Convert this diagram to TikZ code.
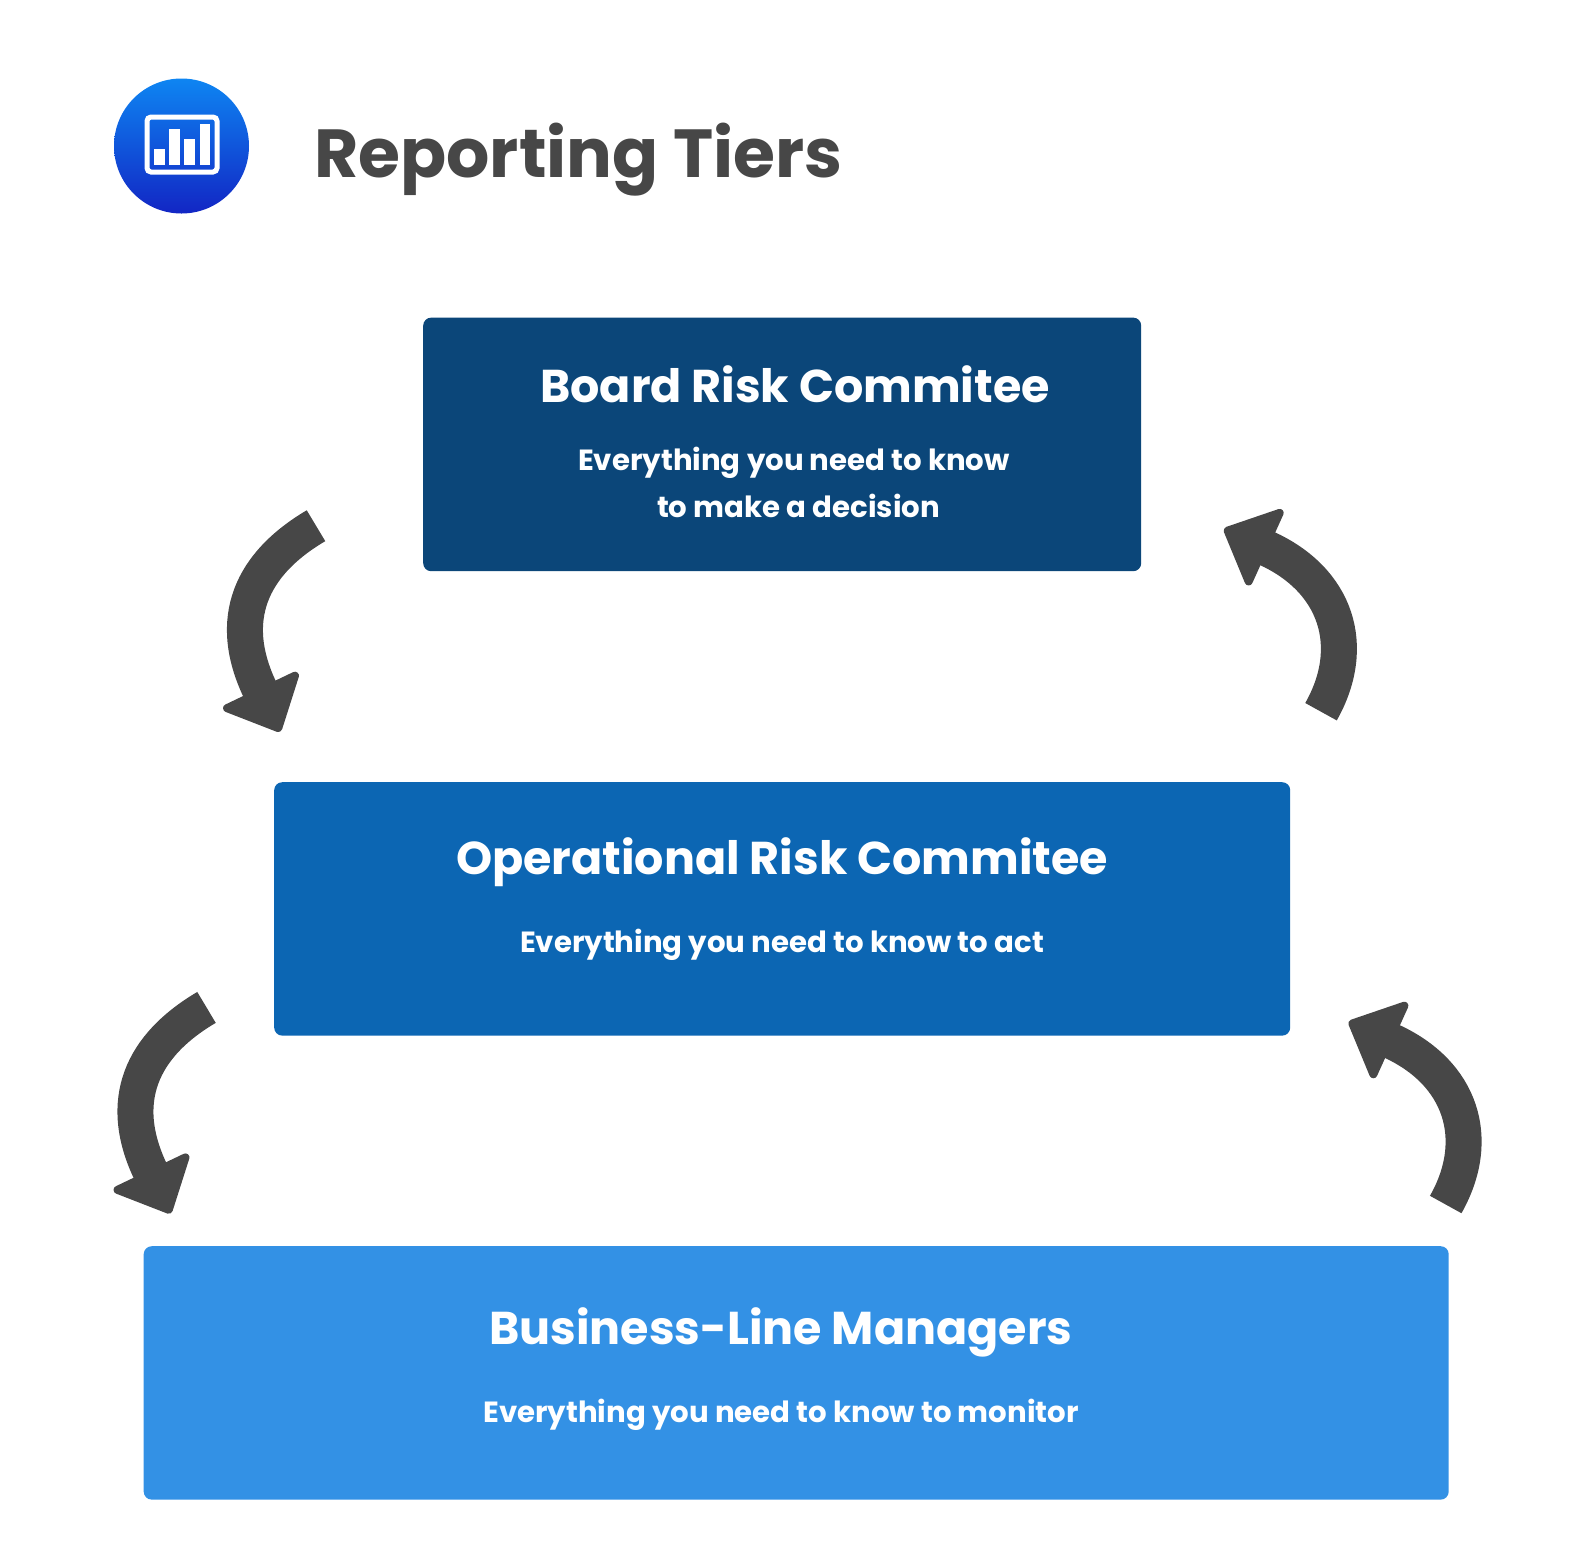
\documentclass[tikz,border=0pt]{standalone}
\usepackage{fontspec}
\setmainfont{Poppins}
\usetikzlibrary{arrows.meta}
\definecolor{boardBlue}{HTML}{0B4679}
\definecolor{opBlue}{HTML}{0C66B3}
\definecolor{lineBlue}{HTML}{3391E5}
\definecolor{arrowGray}{HTML}{474747}
\definecolor{discTop}{HTML}{0E85F2}
\definecolor{discBottom}{HTML}{1226C4}
\tikzset{
  tierbox/.style={anchor=north west,rounded corners=8pt,inner sep=0pt},
  tiertitle/.style={anchor=base,inner sep=0pt,text=white,font=\fontsize{46}{46}\selectfont\bfseries},
  tiertext/.style={anchor=base,inner sep=0pt,text=white,font=\fontsize{29.2}{29.2}\selectfont\bfseries},
  flowarrow/.style={draw=arrowGray,line width=36pt,-{Triangle[length=50pt,width=92pt,round,line width=8pt]}},
  iconbar/.style={fill=white,draw=none}
}
\begin{document}
\begin{tikzpicture}[x=1pt,y=-1pt]
\useasboundingbox (0,0) rectangle (1590,1543);

% Heading
\node[circle,minimum size=135pt,inner sep=0pt,top color=discTop,bottom color=discBottom] (disc) at (181.5,146) {};
\draw[white,line width=5pt,rounded corners=4pt] (147,117) rectangle (217,172);
\fill[iconbar] (154,149.3) rectangle (164.7,164.7);
\fill[iconbar] (169.3,129.3) rectangle (179.7,164.7);
\fill[iconbar] (184.3,139.3) rectangle (195,164.7);
\fill[iconbar] (199.7,124.3) rectangle (210,164.7);
\node[anchor=base west,inner sep=0pt,text=arrowGray,font=\fontsize{68}{68}\selectfont\bfseries] (heading) at (314,177) {Reporting Tiers};

% Tiers
\node[tierbox,fill=boardBlue,minimum width=718pt,minimum height=253.6pt] (board) at (423,317.4) {};
\node[tierbox,fill=opBlue,minimum width=1016pt,minimum height=253.4pt] (oprisk) at (274,782) {};
\node[tierbox,fill=lineBlue,minimum width=1305pt,minimum height=253.4pt] (business) at (143.5,1246) {};

% Labels
\node[tiertitle] (boardTitle) at (795,402) {Board Risk Commitee};
\node[tiertext] (boardLineA) at (794,470.5) {Everything you need to know};
\node[tiertext] (boardLineB) at (798.5,517.5) {to make a decision};
\node[tiertitle] (opTitle) at (782,874) {Operational Risk Commitee};
\node[tiertext] (opLine) at (782,952) {Everything you need to know to act};
\node[tiertitle] (busTitle) at (781,1344.5) {Business-Line Managers};
\node[tiertext] (busLine) at (781,1422.5) {Everything you need to know to monitor};

% Arrow ends
\coordinate (downAs) at (316,525.7);
\coordinate (downAe) at (280,731.7);
\coordinate (downBs) at (206.5,1007.4);
\coordinate (downBe) at (170.5,1213.4);
\coordinate (upAs) at (1321,711.7);
\coordinate (upAe) at (1224,529);
\coordinate (upBs) at (1445.7,1204.5);
\coordinate (upBe) at (1348.7,1021.8);

% Arrows
\draw[flowarrow] (downAs) .. controls +(-64.6,38.1) and +(-54,-113) .. (downAe);
\draw[flowarrow] (downBs) .. controls +(-64.6,38.1) and +(-54,-113) .. (downBe);
\draw[flowarrow] (upAs) .. controls +(37,-65.3) and +(112.7,51) .. (upAe);
\draw[flowarrow] (upBs) .. controls +(37,-65.3) and +(112.7,51) .. (upBe);
\end{tikzpicture}
\end{document}
